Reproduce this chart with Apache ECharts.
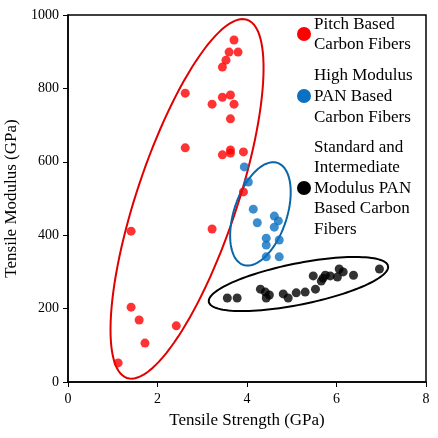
<!DOCTYPE html><html><head><meta charset="utf-8"><script src="https://cdn.jsdelivr.net/npm/echarts@6/dist/echarts.min.js"></script>
<style>html,body{margin:0;padding:0;background:#fff}#c{width:438px;height:438px}</style></head><body><div id="c"></div><script>
const pitch=[[3.71,932],[3.60,899],[3.80,899],[3.53,877],[3.45,858],[2.62,787],[3.45,776],[3.63,782],[3.22,757],[3.71,757],[3.63,717],[2.62,638],[3.45,619],[3.63,624],[3.63,632],[3.92,627],[3.92,518],[1.41,411],[3.22,417],[1.41,204],[1.59,169],[1.72,106],[2.42,153],[1.12,52]];
const highMod=[[3.94,586],[4.03,545],[4.14,471],[4.23,434],[4.61,452],[4.70,439],[4.61,422],[4.43,392],[4.43,373],[4.72,387],[4.43,341],[4.72,341]];
const stdMod=[[3.56,229],[3.78,229],[4.30,253],[4.41,245],[4.50,237],[4.43,229],[4.81,240],[4.92,229],[5.10,243],[5.30,245],[5.53,253],[5.48,289],[5.66,275],[5.70,283],[5.75,291],[5.86,289],[6.02,286],[6.06,308],[6.15,300],[6.38,291],[6.96,308]];
// ellipses: center, conjugate half-axis vectors (data units)
const ellipses=[
 {c:[2.66,499],a:[1.342,488],b:[1.06,-43],color:'#e00000'},
 {c:[4.30,458],a:[0.380,139],b:[0.56,-22.5],color:'#0a64a8'},
 {c:[5.15,267],a:[2.002,49],b:[0.092,-55],color:'#000'}];
const xTicks=[0,2,4,6,8], yTicks=[0,200,400,600,800,1000];
const F='Liberation Serif';
const ch=echarts.init(document.getElementById('c'));
const sc=(name,data,color)=>({name,type:'scatter',data,symbolSize:9,itemStyle:{color},z:3});
ch.setOption({
 animation:false,
 grid:{left:68,right:12,top:15,bottom:56,outerBoundsMode:'none',containLabel:false,show:true,borderColor:'#000',borderWidth:1.5},
 xAxis:{type:'value',min:0,max:8,interval:2,name:'Tensile Strength (GPa)',nameLocation:'middle',nameGap:30,
  nameTextStyle:{fontFamily:F,fontSize:17,color:'#000'},axisLine:{lineStyle:{color:'#000',width:1.5}},
  axisTick:{lineStyle:{color:'#000'},length:5},splitLine:{show:false},axisLabel:{fontFamily:F,fontSize:14,color:'#000',margin:10,formatter:v=>String(v)}},
 yAxis:{type:'value',min:0,max:1000,interval:200,name:'Tensile Modulus (GPa)',nameLocation:'middle',nameGap:46,
  nameTextStyle:{fontFamily:F,fontSize:17,color:'#000'},axisLine:{lineStyle:{color:'#000',width:1.5}},
  axisTick:{lineStyle:{color:'#000'},length:5},splitLine:{show:false},axisLabel:{fontFamily:F,fontSize:14,color:'#000',margin:9,formatter:v=>String(v)}},
 series:[
  {type:'custom',data:ellipses.map((e,i)=>[i]),silent:true,z:2,renderItem:(p,api)=>{
    const e=ellipses[api.value(0)];const pts=[];
    for(let k=0;k<=120;k++){const t=k/120*2*Math.PI;pts.push(api.coord([e.c[0]+e.a[0]*Math.cos(t)+e.b[0]*Math.sin(t),e.c[1]+e.a[1]*Math.cos(t)+e.b[1]*Math.sin(t)]));}
    return {type:'polyline',shape:{points:pts},style:{stroke:e.color,lineWidth:2,fill:null}};}},
  sc('Pitch Based Carbon Fibers',pitch,'#ff0000'),
  sc('High Modulus PAN Based Carbon Fibers',highMod,'#0a70c0'),
  sc('Standard and Intermediate Modulus PAN Based Carbon Fibers',stdMod,'#000')
 ],
 graphic:[
  {type:'circle',shape:{cx:304,cy:34,r:7},style:{fill:'#ff0000'}},
  {type:'text',x:314,y:15,style:{text:'Pitch Based\nCarbon Fibers',font:'17px "Liberation Serif"',lineHeight:20,fill:'#000'}},
  {type:'circle',shape:{cx:304,cy:96,r:7},style:{fill:'#0a70c0'}},
  {type:'text',x:314,y:65,style:{text:'High Modulus\nPAN Based\nCarbon Fibers',font:'17px "Liberation Serif"',lineHeight:21,fill:'#000'}},
  {type:'circle',shape:{cx:304,cy:188,r:7},style:{fill:'#000'}},
  {type:'text',x:314,y:137,style:{text:'Standard and\nIntermediate\nModulus PAN\nBased Carbon\nFibers',font:'17px "Liberation Serif"',lineHeight:20.5,fill:'#000'}}
 ]
});
</script></body></html>
